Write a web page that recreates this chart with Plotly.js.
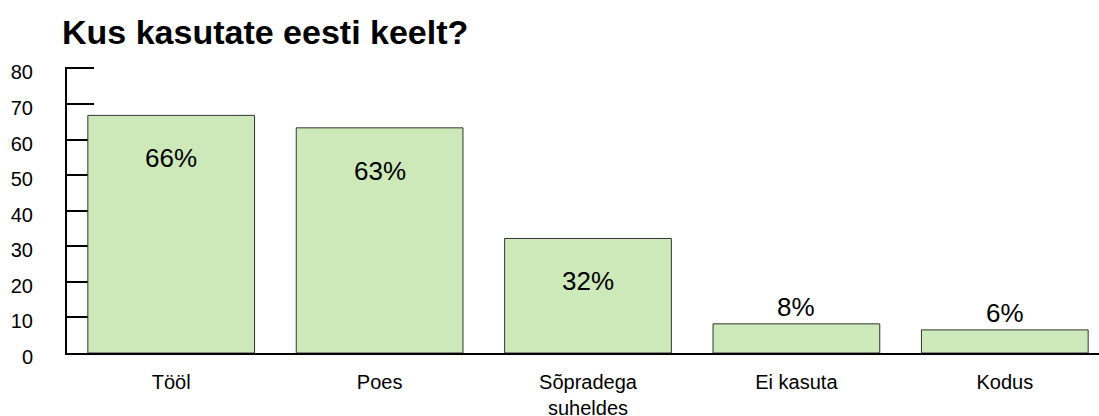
<!DOCTYPE html>
<html>
<head>
<meta charset="utf-8">
<script src="https://cdn.plot.ly/plotly-3.0.1.min.js"></script>
<style>html,body{margin:0;padding:0;background:#fff;}#chart{width:1099px;height:416px;}</style>
</head>
<body>
<div id="chart"></div>
<script>
const categories = ["Tööl", "Poes", "Sõpradega<br>suheldes", "Ei kasuta", "Kodus"];
const values = [66.8, 63.3, 32.2, 8.2, 6.5];
const valueLabels = ["66%", "63%", "32%", "8%", "6%"];
const yTickValues = [0, 10, 20, 30, 40, 50, 60, 70, 80];

const FONT = "Liberation Sans, Arial, sans-serif";

const annotations = values.map((v, i) => ({
  x: categories[i],
  y: v,
  xref: "x",
  yref: "y",
  text: valueLabels[i],
  showarrow: false,
  yanchor: "middle",
  yshift: v > 20 ? -43 : 17,
  font: {family: FONT, size: 26, color: "#000"}
}));

const trace = {
  type: "bar",
  x: categories,
  y: values,
  marker: {color: "#cde9b9", line: {color: "#333333", width: 1}},
  hoverinfo: "skip"
};

const layout = {
  width: 1099,
  height: 416,
  margin: {l: 67, r: 0, t: 67, b: 63},
  paper_bgcolor: "#fff",
  plot_bgcolor: "#fff",
  showlegend: false,
  bargap: 0.2,
  font: {family: FONT, color: "#000"},
  title: {
    text: "<b>Kus kasutate eesti keelt?</b>",
    font: {family: FONT, size: 34, color: "#000"},
    xref: "container", yref: "container",
    x: 62 / 1099, xanchor: "left",
    y: 1 - 32 / 416, yanchor: "middle"
  },
  xaxis: {
    type: "category",
    range: [-0.5, 4.452],
    showline: true, linecolor: "#000", linewidth: 2,
    ticks: "", showgrid: false, zeroline: false,
    tickfont: {family: FONT, size: 20, color: "#000"},
    ticklabelstandoff: 10,
    fixedrange: true
  },
  yaxis: {
    range: [0, 80.4],
    tickvals: yTickValues,
    showline: true, linecolor: "#000", linewidth: 2,
    ticks: "inside", ticklen: 27, tickwidth: 2, tickcolor: "#000",
    showgrid: false, zeroline: false,
    tickfont: {family: FONT, size: 20, color: "#000"},
    ticklabelstandoff: 28,
    ticklabelshift: 4,
    layer: "below traces",
    fixedrange: true
  },
  annotations: annotations
};

Plotly.newPlot("chart", [trace], layout, {displayModeBar: false, staticPlot: true});
</script>
</body>
</html>
